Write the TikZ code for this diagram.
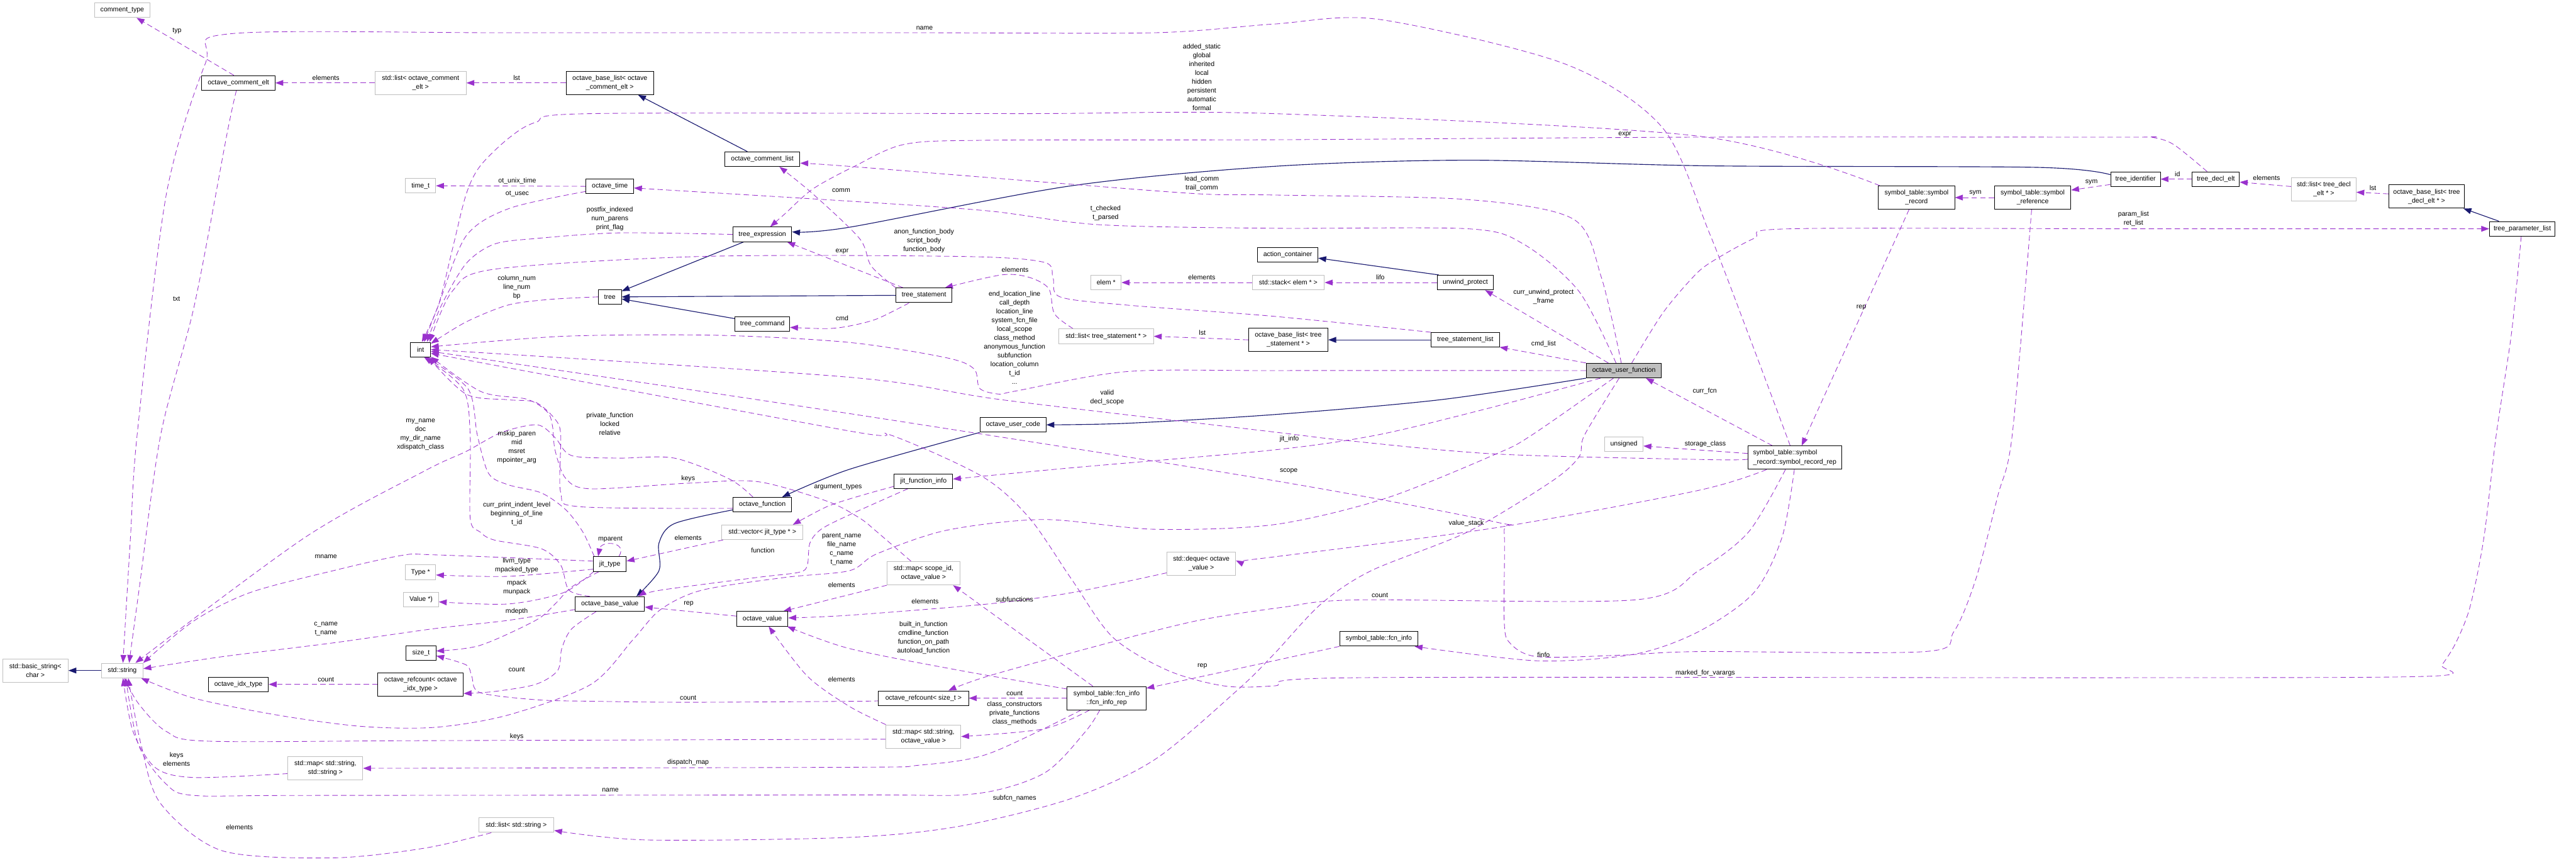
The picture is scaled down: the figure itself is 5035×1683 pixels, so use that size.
\documentclass[tikz,border=0pt]{standalone}
\usepackage{fontspec}
\setmainfont{Liberation Sans}
\usetikzlibrary{arrows.meta,backgrounds}
\definecolor{depcol}{HTML}{9A32CD}
\definecolor{inhcol}{HTML}{191970}
\definecolor{boxgray}{HTML}{BFBFBF}
\newcommand{\nf}{\fontsize{3.7}{4.9}\selectfont}
\begin{document}
\begin{tikzpicture}[x=0.01cm,y=-0.01cm,
  box/.style={draw=black,line width=0.35pt,fill=white,inner sep=0pt,minimum height=0.285cm,font=\nf,align=center},
  gbox/.style={box,draw=boxgray},
  tall/.style={minimum height=0.455cm},
  focus/.style={box,fill=boxgray},
  lbl/.style={font=\nf,inner sep=0pt,align=center},
  dep/.style={draw=depcol,line width=0.3pt,dash pattern=on 3pt off 1.8pt,-{Triangle[length=4.4pt,width=3.2pt]}},
  inh/.style={draw=inhcol,line width=0.4pt,-{Triangle[length=4.4pt,width=3.2pt]}}]
\useasboundingbox (0,0) rectangle (5035,1683);
\node[gbox,minimum width=1.09cm] (ctype) at (239,20) {comment\_type};
\node[box,minimum width=1.43cm] (celt) at (466,162) {octave\_comment\_elt};
\node[gbox,tall,minimum width=1.78cm] (lstcelt) at (822,162) {std::list< octave\_comment\\\_elt >};
\node[box,tall,minimum width=1.71cm] (blcelt) at (1192,162) {octave\_base\_list< octave\\\_comment\_elt >};
\node[box,minimum width=1.47cm] (clist) at (1490,311) {octave\_comment\_list};
\node[gbox,minimum width=0.59cm] (timet) at (822,363) {time\_t};
\node[box,minimum width=0.93cm] (otime) at (1192,364) {octave\_time};
\node[box,minimum width=1.15cm] (texpr) at (1490,458) {tree\_expression};
\node[box,minimum width=0.45cm] (tree) at (1192,580) {tree};
\node[box,minimum width=1.07cm] (tcmd) at (1490,633) {tree\_command};
\node[box,minimum width=0.39cm] (int) at (822,683) {int};
\node[box,minimum width=1.09cm] (tstmt) at (1806,577) {tree\_statement};
\node[gbox,minimum width=0.59cm] (elem) at (2162,552) {elem *};
\node[gbox,minimum width=1.41cm] (stack) at (2518,552) {std::stack< elem * >};
\node[box,minimum width=1.18cm] (actc) at (2517,498) {action\_container};
\node[gbox,minimum width=1.85cm] (lststmt) at (2162,657) {std::list< tree\_statement * >};
\node[box,tall,minimum width=1.55cm] (blstmt) at (2518,664) {octave\_base\_list< tree\\\_statement * >};
\node[box,minimum width=1.10cm] (unwind) at (2864,552) {unwind\_protect};
\node[box,minimum width=1.33cm] (tslist) at (2864,664) {tree\_statement\_list};
\node[focus,minimum width=1.47cm] (ouf) at (3174,724) {octave\_user\_function};
\node[box,minimum width=1.29cm] (ucode) at (1980,830) {octave\_user\_code};
\node[box,minimum width=1.14cm] (jfi) at (1805,940) {jit\_function\_info};
\node[box,minimum width=1.15cm] (ofcn) at (1490,986) {octave\_function};
\node[gbox,minimum width=1.58cm] (vecjit) at (1490,1040) {std::vector< jit\_type * >};
\node[box,minimum width=0.64cm] (jit) at (1192,1102) {jit\_type};
\node[box,minimum width=1.35cm] (obv) at (1192,1180) {octave\_base\_value};
\node[box,minimum width=1.00cm] (ov) at (1490,1209) {octave\_value};
\node[gbox,tall,minimum width=1.42cm] (mapscope) at (1805,1120) {std::map< scope\_id,\\octave\_value >};
\node[gbox,tall,minimum width=1.34cm] (deque) at (2348,1101) {std::deque< octave\\\_value >};
\node[box,minimum width=1.76cm] (rcsize) at (1805,1364) {octave\_refcount< size\_t >};
\node[box,tall,minimum width=1.54cm] (fir) at (2163,1364) {symbol\_table::fcn\_info\\::fcn\_info\_rep};
\node[gbox,tall,minimum width=1.46cm] (mapstrov) at (1805,1439) {std::map< std::string,\\octave\_value >};
\node[gbox,minimum width=0.59cm] (typep) at (822,1118) {Type *};
\node[gbox,minimum width=0.68cm] (valuep) at (823,1171) {Value *)};
\node[box,minimum width=0.58cm] (sizet) at (823,1276) {size\_t};
\node[box,minimum width=1.17cm] (idx) at (466,1337) {octave\_idx\_type};
\node[box,tall,minimum width=1.67cm] (rcidx) at (822,1337) {octave\_refcount< octave\\\_idx\_type >};
\node[gbox,tall,minimum width=1.28cm] (bstr) at (69,1310) {std::basic\_string<\\char >};
\node[gbox,minimum width=0.81cm] (str) at (239,1310) {std::string};
\node[gbox,tall,minimum width=1.46cm] (mapstr) at (636,1501) {std::map< std::string,\\std::string >};
\node[gbox,minimum width=1.47cm] (lststr) at (1009,1612) {std::list< std::string >};
\node[gbox,minimum width=0.75cm] (unsig) at (3174,868) {unsigned};
\node[box,minimum width=1.53cm] (finfo) at (2695,1248) {symbol\_table::fcn\_info};
\node[box,tall,minimum width=1.49cm] (srec) at (3746,386) {symbol\_table::symbol\\\_record};
\node[box,tall,minimum width=1.49cm] (sref) at (3973,386) {symbol\_table::symbol\\\_reference};
\node[box,minimum width=0.97cm] (tid) at (4174,350) {tree\_identifier};
\node[box,tall,minimum width=1.83cm,align=left] (srep) at (3508,894) {symbol\_table::symbol\\\_record::symbol\_record\_rep};
\node[box,minimum width=0.92cm] (tdecl) at (4331,350) {tree\_decl\_elt};
\node[gbox,tall,minimum width=1.26cm] (lstdecl) at (4542,370) {std::list< tree\_decl\\\_elt * >};
\node[box,tall,minimum width=1.48cm] (bldecl) at (4743,384) {octave\_base\_list< tree\\\_decl\_elt * >};
\node[box,minimum width=1.28cm] (tplist) at (4930,447) {tree\_parameter\_list};
\node[lbl] (lTyp) at (346,61) {typ};
\node[lbl] (lCeltEl) at (637,152) {elements};
\node[lbl] (lCeltLst) at (1010,152) {lst};
\node[lbl] (lTxt) at (345,584) {txt};
\node[lbl] (lName) at (1807,55) {name};
\node[lbl] (lUnix) at (1011,354) {ot\_unix\_time};
\node[lbl] (lUsec) at (1011,379) {ot\_usec};
\node[lbl] (lPostfix) at (1192,427) {postfix\_indexed\\num\_parens\\print\_flag};
\node[lbl] (lColumn) at (1010,561) {column\_num\\line\_num\\bp};
\node[lbl] (lStatic) at (2349,151) {added\_static\\global\\inherited\\local\\hidden\\persistent\\automatic\\formal};
\node[lbl] (lLead) at (2349,359) {lead\_comm\\trail\_comm};
\node[lbl] (lChecked) at (2161,416) {t\_checked\\t\_parsed};
\node[lbl] (lComm) at (1644,372) {comm};
\node[lbl] (lExprA) at (1646,492) {expr};
\node[lbl] (lExprB) at (3176,263) {expr};
\node[lbl] (lCmd) at (1646,622) {cmd};
\node[lbl] (lBody) at (1806,471) {anon\_function\_body\\script\_body\\function\_body};
\node[lbl] (lStmtEl) at (1984,527) {elements};
\node[lbl] (lLoc) at (1983,660) {end\_location\_line\\call\_depth\\location\_line\\system\_fcn\_file\\local\_scope\\class\_method\\anonymous\_function\\subfunction\\location\_column\\t\_id\\...};
\node[lbl] (lElemEl) at (2349,542) {elements};
\node[lbl] (lLifo) at (2698,542) {lifo};
\node[lbl] (lStmtLst) at (2350,650) {lst};
\node[lbl] (lUnwind) at (3017,580) {curr\_unwind\_protect\\\_frame};
\node[lbl] (lCmdList) at (3017,672) {cmd\_list};
\node[lbl] (lValid) at (2164,776) {valid\\decl\_scope};
\node[lbl] (lSymA) at (3861,377) {sym};
\node[lbl] (lSymB) at (4088,356) {sym};
\node[lbl] (lId) at (4256,340) {id};
\node[lbl] (lDeclEl) at (4430,348) {elements};
\node[lbl] (lDeclLst) at (4638,367) {lst};
\node[lbl] (lParam) at (4170,428) {param\_list\\ret\_list};
\node[lbl] (lRecRep) at (3638,601) {rep};
\node[lbl] (lCurrFcn) at (3332,764) {curr\_fcn};
\node[lbl] (lStorage) at (3333,867) {storage\_class};
\node[lbl] (lJit) at (2520,858) {jit\_info};
\node[lbl] (lScope) at (2519,921) {scope};
\node[lbl] (lValue) at (2866,1022) {value\_stack};
\node[lbl] (lRepCount) at (2697,1163) {count};
\node[lbl] (lFinfo) at (3017,1279) {finfo};
\node[lbl] (lVarargs) at (3333,1315) {marked\_for\_varargs};
\node[lbl] (lFcnRep) at (2350,1301) {rep};
\node[lbl] (lSubfun) at (1983,1171) {subfunctions};
\node[lbl] (lDequeEl) at (1808,1175) {elements};
\node[lbl] (lBuiltin) at (1805,1246) {built\_in\_function\\cmdline\_function\\function\_on\_path\\autoload\_function};
\node[lbl] (lFirCount) at (1983,1355) {count};
\node[lbl] (lClass) at (1983,1394) {class\_constructors\\private\_functions\\class\_methods};
\node[lbl] (lSubfcn) at (1983,1560) {subfcn\_names};
\node[lbl] (lArgs) at (1638,952) {argument\_types};
\node[lbl] (lParent) at (1645,1073) {parent\_name\\file\_name\\c\_name\\t\_name};
\node[lbl] (lScopeEl) at (1645,1143) {elements};
\node[lbl] (lFunction) at (1491,1075) {function};
\node[lbl] (lStrovEl) at (1645,1327) {elements};
\node[lbl] (lKeysA) at (1345,935) {keys};
\node[lbl] (lVecEl) at (1345,1051) {elements};
\node[lbl] (lOvRep) at (1346,1180) {rep};
\node[lbl] (lSizeCount) at (1345,1364) {count};
\node[lbl] (lKeysB) at (1010,1439) {keys};
\node[lbl] (lDispatch) at (1345,1489) {dispatch\_map};
\node[lbl] (lFirName) at (1193,1543) {name};
\node[lbl] (lLstEl) at (468,1616) {elements};
\node[lbl] (lKeysEl) at (345,1483) {keys\\elements};
\node[lbl] (lIdxCount) at (637,1328) {count};
\node[lbl] (lCname) at (637,1229) {c\_name\\t\_name};
\node[lbl] (lMname) at (637,1088) {mname};
\node[lbl] (lMyName) at (822,849) {my\_name\\doc\\my\_dir\_name\\xdispatch\_class};
\node[lbl] (lMskip) at (1010,874) {mskip\_paren\\mid\\msret\\mpointer\_arg};
\node[lbl] (lIndent) at (1010,1004) {curr\_print\_indent\_level\\beginning\_of\_line\\t\_id};
\node[lbl] (lPrivate) at (1192,828) {private\_function\\locked\\relative};
\node[lbl] (lMparent) at (1193,1054) {mparent};
\node[lbl] (lLlvm) at (1010,1105) {llvm\_type\\mpacked\_type};
\node[lbl] (lMpack) at (1010,1148) {mpack\\munpack};
\node[lbl] (lMdepth) at (1010,1195) {mdepth};
\node[lbl] (lObvCount) at (1010,1308) {count};
\begin{scope}[on background layer]
\draw[inh] (clist.153) -- (blcelt.-23);
\draw[inh] (texpr.202) -- (tree.26);
\draw[inh] (tcmd.169) -- (tree.-10);
\draw[inh] (tstmt.west) -- (tree.east);
\draw[inh] plot[smooth] coordinates {(tid.170) (3981,327) (3340,324) (2870,313) (2490,325) (2094,363) (1660,444) (texpr.5)};
\draw[inh] (unwind.164) -- (actc.-6);
\draw[inh] (tslist.west) -- (blstmt.east);
\draw[inh] plot[smooth] coordinates {(ouf.south west) (2815,781) (2490,810) (2202,827) (ucode.east)};
\draw[inh] plot[smooth] coordinates {(ucode.south west) (1660,917) (ofcn.21)};
\draw[inh] plot[smooth] coordinates {(ofcn.190) (1318,1023) (1288,1061) (1288,1115) (obv.16)};
\draw[inh] (str.west) -- (bstr.east);
\draw[inh] (tplist.162) -- (bldecl.-18);
\draw[dep] (celt.121) -- (ctype.-28);
\draw[dep] (lstcelt.west) -- (celt.east);
\draw[dep] (blcelt.west) -- (lstcelt.east);
\draw[dep] plot[smooth] coordinates {(celt.-105) (444,260) (380,596) (314,850) (271,1158) (str.48)};
\draw[dep] plot[smooth] coordinates {(srep.111) (3420,660) (3341,455) (3249,249) (3059,125) (2696,38) (2490,47) (2256,64) (1800,64) (1000,64) (450,66) (401,125) (325,380) (268,850) (255,1050) (str.85)};
\draw[dep] (otime.west) -- (timet.east);
\draw[dep] plot[smooth] coordinates {(otime.192) (996,407) (911,461) (857,596) (int.65)};
\draw[dep] plot[smooth] coordinates {(texpr.west) (1209,455) (1047,466) (966,477) (911,515) (863,596) (int.50)};
\draw[dep] plot[smooth] coordinates {(tree.west) (1074,585) (993,596) (911,629) (int.30)};
\draw[dep] plot[smooth] coordinates {(srec.162) (3320,266) (2490,222) (2000,222) (1155,222) (1047,239) (993,271) (938,325) (911,380) (884,488) (857,596) (int.80)};
\draw[dep] plot[smooth] coordinates {(ouf.109) (3130,542) (3075,428) (2870,390) (2490,381) (2349,379) (2094,360) (1660,325) (clist.-6)};
\draw[dep] plot[smooth] coordinates {(ouf.136) (3086,569) (2978,477) (2870,447) (2490,446) (2148,439) (1931,412) (1660,393) (otime.-4)};
\draw[dep] plot[smooth] coordinates {(ouf.west) (2490,724) (2202,726) (1985,764) (1953,770) (1915,759) (1904,721) (1850,699) (1660,669) (1400,655) (1101,657) (int.15)};
\draw[dep] plot[smooth] coordinates {(tslist.north west) (2490,618) (2202,596) (2072,580) (2058,542) (2039,512) (1877,501) (1372,501) (966,526) (884,569) (int.40)};
\draw[dep] plot[smooth] coordinates {(lststmt.167) (2061,613) (2050,564) (2012,542) (1958,537) (tstmt.20)};
\draw[dep] (tstmt.160) -- (texpr.-17);
\draw[dep] plot[smooth] coordinates {(tstmt.north west) (1703,520) (1680,466) (1589,379) (clist.-24)};
\draw[dep] plot[smooth] coordinates {(tstmt.207) (1714,623) (1660,637) (1616,642) (tcmd.-7)};
\draw[dep] (blstmt.west) -- (lststmt.east);
\draw[dep] (stack.west) -- (elem.east);
\draw[dep] (unwind.west) -- (stack.east);
\draw[dep] (ouf.154) -- (unwind.-21);
\draw[dep] (ouf.north west) -- (tslist.-12);
\draw[dep] plot[smooth] coordinates {(ouf.44) (3249,613) (3303,548) (3340,515) (3428,466) (3499,447) (4170,447) (tplist.west)};
\draw[dep] (srep.152) -- (ouf.-19);
\draw[dep] (srec.238) -- (srep.60);
\draw[dep] (sref.west) -- (srec.east);
\draw[dep] (tid.192) -- (sref.11);
\draw[dep] (tdecl.west) -- (tid.east);
\draw[dep] (lstdecl.175) -- (tdecl.-7);
\draw[dep] (bldecl.176) -- (lstdecl.-5);
\draw[dep] plot[smooth] coordinates {(tdecl.139) (4248,282) (4204,268) (4150,268) (3320,268) (2490,273) (1931,274) (1768,282) (1670,325) (1589,369) (1535,417) (texpr.44)};
\draw[dep] (srep.175) -- (unsig.-5);
\draw[dep] plot[smooth] coordinates {(srep.182) (3340,898) (2924,887) (2626,860) (2490,844) (1958,781) (1660,737) (int.0)};
\draw[dep] plot[smooth] coordinates {(srep.203) (3320,958) (2924,1031) (2490,1088) (deque.5)};
\draw[dep] plot[smooth] coordinates {(srep.232) (3418,1039) (3320,1115) (3195,1172) (2653,1172) (2510,1186) (2338,1213) (2148,1261) (1931,1321) (rcsize.17)};
\draw[dep] plot[smooth] coordinates {(srep.268) (3483,1050) (3428,1158) (3320,1234) (3195,1278) (3005,1291) (finfo.-12)};
\draw[dep] plot[smooth] coordinates {(sref.265) (3933,850) (3905,968) (3862,1131) (3819,1234) (3762,1273) (3320,1273) (3168,1280) (3005,1283) (2951,1256) (2940,1212) (2940,1039) (2924,1020) (2490,939) (1660,808) (int.-10)};
\draw[dep] plot[smooth] coordinates {(tplist.262) (4909,650) (4879,850) (4855,1050) (4828,1185) (4800,1256) (4773,1299) (4752,1321) (4150,1324) (2653,1324) (2490,1340) (2392,1340) (2283,1310) (2175,1245) (2094,1131) (2012,1012) (1920,931) (1741,850) (1660,842) (int.-20)};
\draw[dep] plot[smooth] coordinates {(finfo.south west) (2490,1291) (2338,1324) (fir.14)};
\draw[dep] plot[smooth] coordinates {(fir.240) (2121,1430) (2040,1511) (1904,1551) (1660,1553) (600,1554) (379,1554) (325,1532) (271,1456) (str.-65)};
\draw[dep] plot[smooth] coordinates {(fir.205) (1931,1473) (1796,1495) (1660,1499) (mapstr.east)};
\draw[dep] plot[smooth] coordinates {(fir.215) (2040,1424) (mapstrov.east)};
\draw[dep] (fir.west) -- (rcsize.east);
\draw[dep] (fir.139) -- (mapscope.-22);
\draw[dep] plot[smooth] coordinates {(fir.167) (1877,1310) (1660,1267) (ov.-17)};
\draw[dep] (mapscope.south west) -- (ov.20);
\draw[dep] plot[smooth] coordinates {(deque.195) (2094,1158) (1931,1180) (1660,1202) (ov.2)};
\draw[dep] plot[smooth] coordinates {(mapstrov.north west) (1660,1380) (1578,1321) (ov.-50)};
\draw[dep] (ov.174) -- (obv.-5);
\draw[dep] plot[smooth] coordinates {(obv.209) (1117,1229) (1098,1267) (1090,1310) (1047,1337) (966,1351) (rcidx.-12)};
\draw[dep] (rcidx.west) -- (idx.east);
\draw[dep] plot[smooth] coordinates {(obv.189) (993,1212) (850,1228) (651,1256) (434,1283) (str.5)};
\draw[dep] plot[smooth] coordinates {(obv.159) (1112,1153) (1096,1104) (1058,1072) (966,1055) (938,1039) (919,1012) (919,850) (905,760) (int.-65)};
\draw[dep] plot[smooth] coordinates {(jit.154) (1139,1039) (1106,996) (1058,963) (993,947) (955,925) (933,850) (915,760) (int.-55)};
\draw[dep] plot[smooth] coordinates {(ofcn.187) (1134,990) (1096,963) (1096,850) (1085,819) (1047,786) (993,781) (911,770) (int.-45)};
\draw[dep] plot[smooth] coordinates {(ofcn.141) (1426,936) (1318,895) (1209,895) (1117,890) (1085,855) (1050,830) (980,845) (911,882) (830,920) (596,1050) (str.30)};
\draw[dep] plot[smooth] coordinates {(mapscope.136) (1714,1039) (1680,1012) (1616,979) (1481,941) (1345,944) (1155,955) (1106,935) (1085,880) (1080,833) (1070,805) (1030,780) (940,765) (int.-35)};
\draw[dep] plot[smooth] coordinates {(jit.170) (850,1084) (786,1085) (651,1115) (488,1158) (379,1213) (str.20)};
\draw[dep] plot[smooth] coordinates {(jit.197) (993,1126) (typep.-10)};
\draw[dep] plot[smooth] coordinates {(jit.205) (1101,1158) (993,1180) (valuep.-8)};
\draw[dep] plot[smooth] coordinates {(jit.215) (1117,1147) (1085,1180) (1047,1212) (938,1261) (sizet.8)};
\draw[dep] (jit.40) .. controls (1228,1058) and (1175,1055) .. (jit.147);
\draw[dep] (vecjit.191) -- (jit.10);
\draw[dep] plot[smooth] coordinates {(jfi.190) (1680,969) (1616,990) (vecjit.14)};
\draw[dep] plot[smooth] coordinates {(jfi.206) (1660,1006) (1605,1034) (1583,1061) (1578,1104) (1562,1118) (1481,1128) (1291,1153) (obv.15)};
\draw[dep] plot[smooth] coordinates {(ouf.198) (2900,800) (2691,850) (2490,879) (2094,914) (jfi.4)};
\draw[dep] plot[smooth] coordinates {(ouf.216) (2994,850) (2924,887) (2707,974) (2490,1025) (2256,1034) (2039,1015) (1850,1036) (1714,1082) (1660,1115) (1535,1128) (1372,1153) (1291,1191) (1237,1250) (1155,1337) (993,1397) (850,1421) (705,1419) (542,1397) (379,1364) (str.-22)};
\draw[dep] plot[smooth] coordinates {(ouf.238) (3097,850) (3086,893) (3032,941) (2869,1039) (2680,1115) (2582,1180) (2490,1278) (2419,1348) (2257,1484) (2094,1560) (1877,1614) (1660,1636) (1264,1641) (lststr.-8)};
\draw[dep] plot[smooth] coordinates {(lststr.197) (830,1657) (651,1676) (434,1662) (314,1570) (276,1456) (str.-52)};
\draw[dep] plot[smooth] coordinates {(mapstrov.184) (830,1447) (407,1448) (325,1429) (271,1375) (str.-75)};
\draw[dep] plot[smooth] coordinates {(mapstr.188) (379,1519) (304,1500) (260,1429) (str.-85)};
\draw[dep] plot[smooth] coordinates {(rcsize.183) (1680,1370) (1345,1372) (1155,1370) (1047,1367) (938,1353) (922,1321) (911,1299) (sizet.-10)};
\end{scope}
\end{tikzpicture}
\end{document}
